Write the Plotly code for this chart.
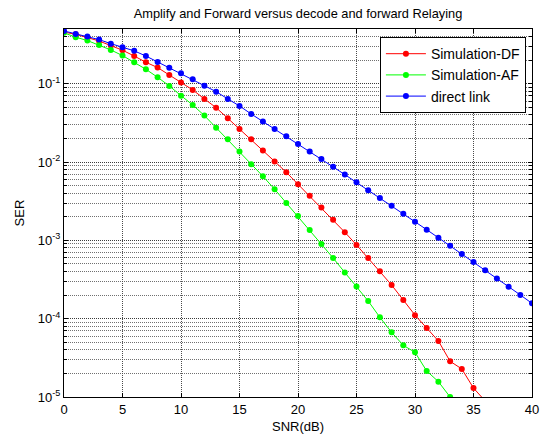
import plotly.graph_objects as go

# SNR grid (dB)
snr_df = list(range(0, 37))
snr_af = list(range(0, 34))
snr_direct = list(range(0, 41))

# Symbol error rate, decode-and-forward relaying
ser_df = [0.457, 0.427, 0.389, 0.351, 0.307, 0.268, 0.226, 0.188, 0.161, 0.129,
          0.104, 0.0834, 0.064, 0.0495, 0.0362, 0.0265, 0.0196, 0.014, 0.0102, 0.00741,
          0.0052, 0.00372, 0.00263, 0.00184, 0.00127, 8.75e-4, 5.96e-4, 4.03e-4, 2.69e-4, 1.73e-4,
          1.11e-4, 7.6e-5, 5.19e-5, 2.86e-5, 2.28e-5, 1.3e-5, 8.9e-6]

# Symbol error rate, amplify-and-forward relaying
ser_af = [0.447, 0.393, 0.356, 0.313, 0.270, 0.229, 0.188, 0.153, 0.121, 0.0938,
          0.0705, 0.0536, 0.0392, 0.0275, 0.0196, 0.0136, 0.00938, 0.00659, 0.0045, 0.00301,
          0.00205, 0.00136, 9.0e-4, 5.96e-4, 3.89e-4, 2.57e-4, 1.68e-4, 1.04e-4, 6.7e-5, 4.57e-5,
          3.72e-5, 2.15e-5, 1.57e-5, 1.0e-5]

# Symbol error rate, direct source-destination link
ser_direct = [0.472, 0.433, 0.40, 0.366, 0.325, 0.292, 0.263, 0.226, 0.19, 0.16,
              0.136, 0.114, 0.0946, 0.0793, 0.064, 0.052, 0.0411, 0.033, 0.0265, 0.0213,
              0.017, 0.0136, 0.0109, 0.00868, 0.00692, 0.00551, 0.00438, 0.00348, 0.00276, 0.00219,
              0.00173, 0.00137, 0.00108, 8.53e-4, 6.72e-4, 5.29e-4, 4.16e-4, 3.27e-4, 2.56e-4, 2.01e-4,
              1.57e-4]

x_ticks = [0, 5, 10, 15, 20, 25, 30, 35, 40]
y_ticks = [1e-5, 1e-4, 1e-3, 1e-2, 1e-1]
y_ticktext = ["10<sup>-5</sup>", "10<sup>-4</sup>", "10<sup>-3</sup>",
              "10<sup>-2</sup>", "10<sup>-1</sup>"]
y_minor = [m * 10.0 ** e for e in range(-5, 0) for m in range(2, 10) if m * 10.0 ** e <= 0.5]

FONT = "Liberation Sans, Arial, sans-serif"

fig = go.Figure()
for name, xs, ys, color in [
    ("Simulation-DF", snr_df, ser_df, "#ff0000"),
    ("Simulation-AF", snr_af, ser_af, "#00ff00"),
    ("direct link", snr_direct, ser_direct, "#0000ff"),
]:
    fig.add_trace(go.Scatter(
        x=xs, y=ys, name=name, mode="lines+markers",
        line=dict(color=color, width=1),
        marker=dict(color=color, size=6, symbol="circle"),
    ))

fig.update_layout(
    width=540, height=438,
    margin=dict(l=64, r=8, t=29, b=41),
    paper_bgcolor="white", plot_bgcolor="white",
    font=dict(family=FONT, size=13, color="black"),
    title=dict(text="Amplify and Forward versus decode and forward Relaying",
               x=(64 + 532) / 2 / 540, xanchor="center", y=1 - 14 / 438, yanchor="middle",
               font=dict(family=FONT, size=12.8, color="black")),
    showlegend=True,
    legend=dict(x=0.987, xanchor="right", y=0.978, yanchor="top",
                bgcolor="white", bordercolor="black", borderwidth=1,
                font=dict(family=FONT, size=14, color="black"),
                itemwidth=40, tracegroupgap=0),
)

fig.update_xaxes(
    range=[0, 40], tickvals=x_ticks, ticks="inside", ticklen=4, tickcolor="black",
    showline=True, linecolor="black", linewidth=1, mirror="allticks",
    showgrid=True, gridcolor="#4a4a4a", gridwidth=1, griddash="1px,1px",
    zeroline=False, automargin=False,
    title=dict(text="SNR(dB)", standoff=6, font=dict(size=13)),
    tickfont=dict(size=13),
)
fig.update_yaxes(
    type="log", range=[-5, -0.30103], tickvals=y_ticks, ticktext=y_ticktext,
    ticks="inside", ticklen=4, tickcolor="black",
    showline=True, linecolor="black", linewidth=1, mirror="allticks",
    showgrid=True, gridcolor="#3a3a3a", gridwidth=1, griddash="1px,1px",
    minor=dict(tickmode="array", tickvals=y_minor, ticks="inside", ticklen=3,
               tickcolor="black", showgrid=True, gridcolor="#707070", griddash="1px,1px"),
    zeroline=False, automargin=False,
    title=dict(text="SER", standoff=10, font=dict(size=13)),
    tickfont=dict(size=13),
)

fig.write_html("out.html")
